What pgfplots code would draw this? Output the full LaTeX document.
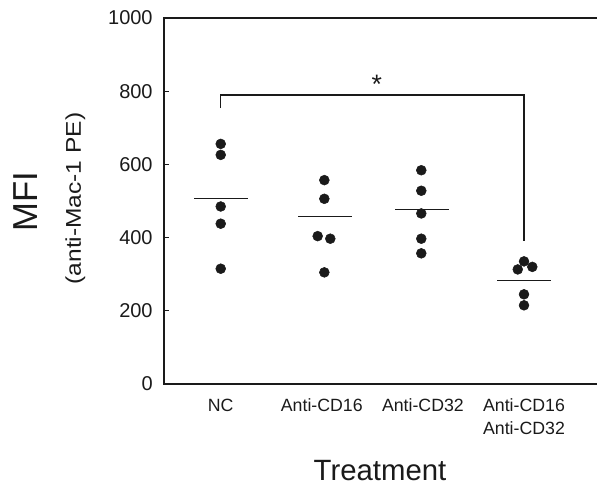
\documentclass[border=0pt]{standalone}
\usepackage{fontspec}
\setmainfont{Liberation Sans}
\usepackage{pgfplots}
\pgfplotsset{compat=1.18}
\definecolor{ink}{HTML}{1A1A1A}

\begin{document}
\begin{tikzpicture}
\begin{axis}[
    scale only axis,
    width=324.75pt, height=274.5pt,
    xmin=0.439, xmax=4.722,
    ymin=0, ymax=1000,
    clip=false,
    axis line style={draw=none},
    xtick={1,2,3,4},
    xticklabels={NC, Anti-CD16, Anti-CD32, {Anti-CD16\\Anti-CD32}},
    xtick style={draw=none},
    xticklabel style={align=center, font=\fontsize{13.3}{17.3}\selectfont, text=ink, yshift=-7.5pt},
    ytick={0,200,...,1000},
    ytick pos=left,
    tick align=inside,
    major tick length=4pt,
    ytick style={ink, line width=0.6pt},
    yticklabel style={font=\fontsize{15}{18}\selectfont, text=ink, xshift=-5pt},
    /pgf/number format/assume math mode=true,
    /pgf/number format/set thousands separator={},
]
% frame: left, top, bottom
\draw[ink, line width=2pt] (rel axis cs:1,1) -- (rel axis cs:0,1) -- (rel axis cs:0,0) -- (rel axis cs:1,0);
\coordinate (ll) at (rel axis cs:0,0);
\coordinate (ur) at (rel axis cs:1,1);

% individual values
\addplot[only marks, mark=*, mark size=3.7pt, ink] coordinates {
    (1,656) (1,626) (1,485) (1,438) (1,315)
};
\addplot[only marks, mark=*, mark size=3.7pt, ink] coordinates {
    (2.025,557) (2.025,506) (1.959,404) (2.084,397) (2.025,305)
};
\addplot[only marks, mark=*, mark size=3.7pt, ink] coordinates {
    (2.984,584) (2.984,528) (2.984,466) (2.984,397) (2.984,357)
};
\addplot[only marks, mark=*, mark size=3.7pt, ink] coordinates {
    (4,335) (3.938,313) (4.082,320) (4,245) (4,215)
};

% means
\addplot[ink, line width=0.9pt] coordinates {(0.738,507) (1.272,507)};
\addplot[ink, line width=0.9pt] coordinates {(1.768,457) (2.302,457)};
\addplot[ink, line width=0.9pt] coordinates {(2.728,477) (3.262,477)};
\addplot[ink, line width=0.9pt] coordinates {(3.733,283) (4.267,283)};

% significance bracket
\draw[ink, line width=1pt] (axis cs:1,754) -- (axis cs:1,790) -- (axis cs:4,790) -- (axis cs:4,390);
\node[ink, font=\fontsize{20}{20}\selectfont, anchor=base] at (axis cs:2.545,795) {*};
\end{axis}

\node[ink, rotate=90, font=\fontsize{26}{30}\selectfont] at ([shift={(-103.9pt,136.5pt)}]ll) {MFI};
\node[ink, rotate=90, font=\fontsize{16}{19}\selectfont] at ([shift={(-66.4pt,139.1pt)}]ll) {\scalebox{1.15}[1]{(anti-Mac-1 PE)}};
\node[ink, font=\fontsize{22}{26}\selectfont] at ([shift={(162pt,-64.9pt)}]ll) {Treatment};

\pgfresetboundingbox
\path[use as bounding box] ([shift={(-123pt,-77.6pt)}]ll) rectangle ([shift={(0pt,13.5pt)}]ur);
\end{tikzpicture}
\end{document}
